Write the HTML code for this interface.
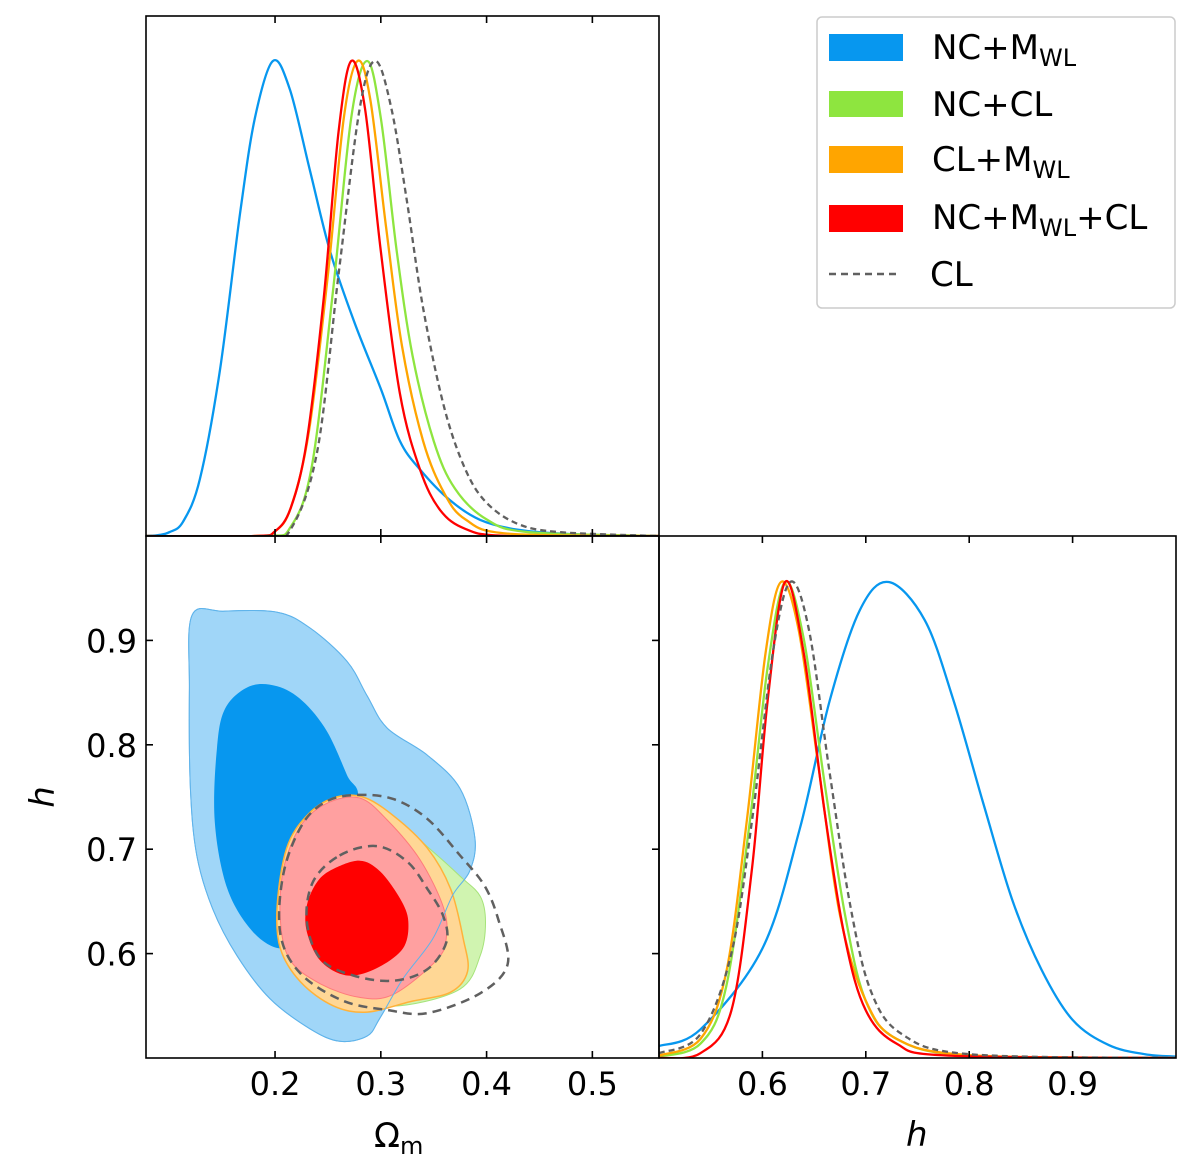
<!DOCTYPE html>
<html><head><meta charset="utf-8">
<style>
html,body{margin:0;padding:0;background:#fff;}
body{position:relative;width:1200px;height:1165px;}
svg{display:block;font-family:"DejaVu Sans","Liberation Sans",sans-serif;}
</style></head>
<body>
<svg id="chart" width="1200" height="1165" viewBox="0 0 1200 1165" xmlns="http://www.w3.org/2000/svg">
<g id="layer"></g>
</svg>
<script>
// ---------- data ----------
const omTicks = [0.2, 0.3, 0.4, 0.5];
const hTicks = [0.6, 0.7, 0.8, 0.9];
const hTickLabels = ['0.6', '0.7', '0.8', '0.9'];
const omTickLabels = ['0.2', '0.3', '0.4', '0.5'];
const seriesNames = ['NC+M_WL', 'NC+CL', 'CL+M_WL', 'NC+M_WL+CL', 'CL'];

// 1D Omega_m marginals [Om, density]
const omBlue = [[0.078,0],[0.09,0.002],[0.10,0.008],[0.113,0.03],[0.129,0.12],[0.148,0.35],[0.167,0.68],[0.181,0.88],[0.198,1.0],[0.214,0.94],[0.233,0.77],[0.252,0.6],[0.275,0.45],[0.3,0.31],[0.318,0.2],[0.337,0.14],[0.365,0.076],[0.394,0.034],[0.43,0.013],[0.48,0.004],[0.563,0]];
const omGreen = [[0.078,0],[0.19,0],[0.215,0.02],[0.235,0.15],[0.255,0.52],[0.272,0.88],[0.287,1.0],[0.3,0.88],[0.315,0.6],[0.33,0.38],[0.35,0.2],[0.37,0.1],[0.4,0.035],[0.44,0.008],[0.563,0]];
const omOrange = [[0.078,0],[0.18,0],[0.2,0.01],[0.215,0.06],[0.232,0.22],[0.25,0.55],[0.265,0.88],[0.278,1.0],[0.29,0.92],[0.305,0.65],[0.32,0.4],[0.34,0.2],[0.36,0.09],[0.38,0.035],[0.42,0.005],[0.563,0]];
const omRed = [[0.078,0],[0.18,0],[0.2,0.01],[0.215,0.06],[0.23,0.2],[0.246,0.5],[0.26,0.85],[0.272,1.0],[0.285,0.9],[0.3,0.6],[0.318,0.3],[0.337,0.14],[0.356,0.055],[0.38,0.015],[0.42,0],[0.563,0]];
const omCL = [[0.078,0],[0.19,0],[0.215,0.015],[0.24,0.18],[0.26,0.55],[0.28,0.9],[0.295,1.0],[0.31,0.9],[0.325,0.7],[0.34,0.48],[0.36,0.27],[0.38,0.14],[0.4,0.07],[0.43,0.025],[0.47,0.008],[0.563,0]];

// 1D h marginals [h, density]
const hBlue = [[0.5,0.025],[0.54,0.06],[0.6,0.23],[0.636,0.48],[0.665,0.75],[0.694,0.94],[0.722,1.0],[0.757,0.92],[0.785,0.75],[0.813,0.54],[0.842,0.33],[0.87,0.185],[0.9,0.08],[0.935,0.027],[0.97,0.008],[1.0,0.003]];
const hGreen = [[0.5,0.003],[0.54,0.03],[0.565,0.15],[0.588,0.5],[0.605,0.82],[0.622,1.0],[0.64,0.88],[0.66,0.58],[0.68,0.3],[0.7,0.12],[0.73,0.04],[0.8,0.005],[1.0,0]];
const hOrange = [[0.5,0.005],[0.54,0.04],[0.565,0.18],[0.585,0.5],[0.603,0.85],[0.618,1.0],[0.635,0.9],[0.655,0.6],[0.675,0.3],[0.7,0.12],[0.73,0.04],[0.8,0.006],[1.0,0]];
const hRed = [[0.5,0],[0.54,0.01],[0.57,0.1],[0.59,0.4],[0.605,0.75],[0.622,1.0],[0.64,0.85],[0.66,0.52],[0.68,0.25],[0.7,0.1],[0.73,0.03],[0.78,0.005],[1.0,0]];
const hCL = [[0.5,0.01],[0.54,0.05],[0.57,0.22],[0.59,0.5],[0.61,0.85],[0.627,1.0],[0.645,0.9],[0.665,0.6],[0.685,0.32],[0.705,0.14],[0.735,0.05],[0.8,0.008],[1.0,0]];

// 2D contours [Om, h]
const blueOuter = [[0.1215,0.924],[0.151,0.928],[0.202,0.927],[0.233,0.912],[0.268,0.880],[0.287,0.847],[0.306,0.816],[0.344,0.790],[0.375,0.758],[0.389,0.710],[0.384,0.679],[0.368,0.656],[0.349,0.614],[0.321,0.576],[0.299,0.538],[0.287,0.521],[0.261,0.516],[0.233,0.528],[0.195,0.557],[0.164,0.598],[0.141,0.643],[0.126,0.694],[0.120,0.758],[0.119,0.854]];
const blueInner = [[0.176,0.856],[0.202,0.856],[0.226,0.842],[0.249,0.813],[0.268,0.771],[0.278,0.746],[0.252,0.672],[0.224,0.619],[0.205,0.605],[0.179,0.621],[0.155,0.662],[0.143,0.726],[0.145,0.796],[0.153,0.835]];
const greenOuter = [[0.312,0.729],[0.350,0.697],[0.375,0.674],[0.394,0.655],[0.399,0.630],[0.394,0.598],[0.375,0.566],[0.318,0.550],[0.264,0.554],[0.233,0.569],[0.214,0.602],[0.211,0.662],[0.224,0.710],[0.249,0.736],[0.280,0.741]];
const orangeOuter = [[0.230,0.732],[0.255,0.749],[0.283,0.750],[0.312,0.732],[0.344,0.701],[0.366,0.662],[0.378,0.614],[0.382,0.583],[0.366,0.563],[0.328,0.554],[0.287,0.544],[0.255,0.550],[0.224,0.573],[0.205,0.605],[0.202,0.646],[0.211,0.701]];
const redOuter = [[0.224,0.722],[0.249,0.744],[0.280,0.749],[0.306,0.728],[0.337,0.690],[0.359,0.645],[0.362,0.616],[0.353,0.594],[0.312,0.561],[0.280,0.558],[0.243,0.571],[0.214,0.594],[0.205,0.633],[0.208,0.681]];
const redInner = [[0.255,0.681],[0.280,0.689],[0.299,0.679],[0.318,0.653],[0.326,0.631],[0.321,0.605],[0.296,0.586],[0.268,0.579],[0.243,0.593],[0.230,0.621],[0.230,0.646],[0.240,0.669]];
const clOuter = [[0.278,0.752],[0.312,0.748],[0.344,0.729],[0.375,0.694],[0.398,0.665],[0.411,0.633],[0.420,0.590],[0.394,0.562],[0.344,0.543],[0.306,0.546],[0.264,0.555],[0.224,0.581],[0.205,0.619],[0.208,0.677],[0.226,0.724],[0.249,0.746]];
const clInner = [[0.261,0.694],[0.296,0.703],[0.325,0.688],[0.344,0.662],[0.359,0.636],[0.362,0.611],[0.344,0.585],[0.312,0.574],[0.274,0.579],[0.243,0.595],[0.230,0.631],[0.236,0.669]];

// ---------- layout ----------
const NS = 'http://www.w3.org/2000/svg';
const L = document.getElementById('layer');
const P1 = {x0:146, x1:659, y0:16, y1:536};
const P2 = {x0:146, x1:659, y0:536, y1:1058};
const P3 = {x0:659, x1:1176, y0:536, y1:1058};
const omMin = 0.078, omMax = 0.563, hMin = 0.5, hMax = 1.0;
const xOm = v => P2.x0 + (v - omMin) / (omMax - omMin) * (P2.x1 - P2.x0);
const yH = v => P2.y1 - (v - hMin) / (hMax - hMin) * (P2.y1 - P2.y0);
const xH = v => P3.x0 + (v - hMin) / (hMax - hMin) * (P3.x1 - P3.x0);
const yD1 = d => P1.y1 - d * 475;
const yD3 = d => P3.y1 - d * 476;

function el(tag, attrs, parent){
  const e = document.createElementNS(NS, tag);
  for (const k in attrs) e.setAttribute(k, attrs[k]);
  (parent || L).appendChild(e);
  return e;
}
function smooth(pts, closed){
  const n = pts.length;
  let d = 'M' + pts[0][0].toFixed(1) + ',' + pts[0][1].toFixed(1);
  const get = i => closed ? pts[(i + n) % n] : pts[Math.max(0, Math.min(n - 1, i))];
  const last = closed ? n : n - 1;
  for (let i = 0; i < last; i++){
    const p0 = get(i - 1), p1 = get(i), p2 = get(i + 1), p3 = get(i + 2);
    const c1 = [p1[0] + (p2[0] - p0[0]) / 6, p1[1] + (p2[1] - p0[1]) / 6];
    const c2 = [p2[0] - (p3[0] - p1[0]) / 6, p2[1] - (p3[1] - p1[1]) / 6];
    d += 'C' + c1[0].toFixed(1) + ',' + c1[1].toFixed(1) + ' ' + c2[0].toFixed(1) + ',' + c2[1].toFixed(1) + ' ' + p2[0].toFixed(1) + ',' + p2[1].toFixed(1);
  }
  return d + (closed ? 'Z' : '');
}

const defs = el('defs', {});
[['c1',P1],['c2',P2],['c3',P3]].forEach(([id,P]) => {
  const cp = el('clipPath', {id:id}, defs);
  el('rect', {x:P.x0, y:P.y0, width:P.x1-P.x0, height:P.y1-P.y0}, cp);
});

// ---------- 2D panel ----------
const g2 = el('g', {'clip-path':'url(#c2)'});


function contour(data, fill, stroke, sw, dash, name){
  const pts = data.map(p => [xOm(p[0]), yH(p[1])]);
  const e = el('path', {d: smooth(pts, true), fill: fill, stroke: stroke, 'stroke-width': sw}, g2);
  if (dash) e.setAttribute('stroke-dasharray', dash);
  
  
  return e;
}
contour(blueOuter, '#a0d6f8', '#6cbcf0', 1, null, 'nc-mwl-outer-contour');
contour(blueInner, '#0797ef', 'none', 0, null, 'nc-mwl-inner-contour');
contour(greenOuter, '#d0f4b0', '#a6e37a', 1, null, 'nc-cl-outer-contour');
contour(orangeOuter, '#ffd795', '#ffb23a', 1.5, null, 'cl-mwl-outer-contour');
contour(redOuter, '#ffa0a0', '#ff7b7b', 1, null, 'nc-mwl-cl-outer-contour');
contour(redInner, '#ff0000', 'none', 0, null, 'nc-mwl-cl-inner-contour');
contour(blueOuter, 'none', '#5fb3ea', 1, null, 'nc-mwl-outer-outline');
contour(clOuter, 'none', '#606060', 2.5, '9,6', 'cl-outer-contour');
contour(clInner, 'none', '#606060', 2.5, '9,6', 'cl-inner-contour');

// ---------- 1D panels ----------
function curve(data, xf, yf, color, dash, clip, name){
  const pts = data.map(p => [xf(p[0]), yf(p[1])]);
  const e = el('path', {d: smooth(pts, false), fill:'none', stroke: color, 'stroke-width': 2.3, 'clip-path': clip});
  if (dash) e.setAttribute('stroke-dasharray', dash);
  
  
}
curve(omBlue, xOm, yD1, '#0797ef', null, 'url(#c1)', 'om-curve-nc-mwl');
curve(omGreen, xOm, yD1, '#8ee53f', null, 'url(#c1)', 'om-curve-nc-cl');
curve(omOrange, xOm, yD1, '#ffa500', null, 'url(#c1)', 'om-curve-cl-mwl');
curve(omRed, xOm, yD1, '#ff0000', null, 'url(#c1)', 'om-curve-nc-mwl-cl');
curve(omCL, xOm, yD1, '#606060', '6,4', 'url(#c1)', 'om-curve-cl');
curve(hBlue, xH, yD3, '#0797ef', null, 'url(#c3)', 'h-curve-nc-mwl');
curve(hGreen, xH, yD3, '#8ee53f', null, 'url(#c3)', 'h-curve-nc-cl');
curve(hOrange, xH, yD3, '#ffa500', null, 'url(#c3)', 'h-curve-cl-mwl');
curve(hRed, xH, yD3, '#ff0000', null, 'url(#c3)', 'h-curve-nc-mwl-cl');
curve(hCL, xH, yD3, '#606060', '6,4', 'url(#c3)', 'h-curve-cl');

// ---------- frames & ticks ----------
[[P1,'om-marginal-frame'],[P2,'contour-frame'],[P3,'h-marginal-frame']].forEach(([P,n]) => {
  const r = el('rect', {x:P.x0, y:P.y0, width:P.x1-P.x0, height:P.y1-P.y0, fill:'none', stroke:'#000', 'stroke-width':1.6});
  
  
});
const TL = 7;
function tick(x1,y1,x2,y2){ el('line', {x1:x1,y1:y1,x2:x2,y2:y2,stroke:'#000','stroke-width':1.6}); }
omTicks.forEach(v => {
  const x = xOm(v);
  tick(x, P1.y1, x, P1.y1 - TL);
  tick(x, P1.y0, x, P1.y0 + TL);
  tick(x, P2.y0, x, P2.y0 + TL);
  tick(x, P2.y1, x, P2.y1 - TL);
});
hTicks.forEach(v => {
  const y = yH(v);
  tick(P2.x0, y, P2.x0 + TL, y);
  tick(P2.x1, y, P2.x1 - TL, y);
  const x = xH(v);
  tick(x, P3.y1, x, P3.y1 - TL);
  tick(x, P3.y0, x, P3.y0 + TL);
});

omTicks.forEach((v,i) => {
  const t = el('text', {x:xOm(v), y:1095, 'font-size':32, 'text-anchor':'middle', fill:'#000'});
  t.textContent = omTickLabels[i];
  
  
});
hTicks.forEach((v,i) => {
  const t = el('text', {x:137, y:yH(v)+12, 'font-size':32, 'text-anchor':'end', fill:'#000'});
  t.textContent = hTickLabels[i];
  
  
  const t2 = el('text', {x:xH(v), y:1095, 'font-size':32, 'text-anchor':'middle', fill:'#000'});
  t2.textContent = hTickLabels[i];
  
  
});
</script>

<svg style="position:absolute;left:0;top:0" width="1200" height="1165" xmlns="http://www.w3.org/2000/svg">
  <text x="374" y="1147" font-family="DejaVu Sans, sans-serif" font-size="34">Ω<tspan font-size="24" dy="7">m</tspan></text>
  <text x="906" y="1146" font-family="DejaVu Sans, sans-serif" font-size="34" font-style="italic">h</text>
  <text x="0" y="0" transform="translate(54,797) rotate(-90)" text-anchor="middle" font-family="DejaVu Sans, sans-serif" font-size="34" font-style="italic">h</text>
  <g font-family="DejaVu Sans, sans-serif" font-size="34" fill="#000">
    <rect x="817" y="17" width="358" height="291" rx="5" fill="#fff" stroke="#cccccc" stroke-width="1.5"/>
    <g><rect x="829" y="34" width="74" height="27" fill="#0797ef"/><text x="932" y="59">NC+M<tspan font-size="24" dy="7">WL</tspan></text></g>
    <g><rect x="829" y="91" width="74" height="26" fill="#8ee53f"/><text x="932" y="116">NC+CL</text></g>
    <g><rect x="829" y="146" width="74" height="27" fill="#ffa500"/><text x="932" y="171">CL+M<tspan font-size="24" dy="7">WL</tspan></text></g>
    <g><rect x="829" y="205" width="74" height="27" fill="#ff0000"/><text x="932" y="229">NC+M<tspan font-size="24" dy="7">WL</tspan><tspan dy="-7">+CL</tspan></text></g>
    <g><line x1="829" y1="274" x2="900" y2="274" stroke="#606060" stroke-width="2.5" stroke-dasharray="7,5"/><text x="930" y="286">CL</text></g>
  </g>
</svg>
</body></html>
